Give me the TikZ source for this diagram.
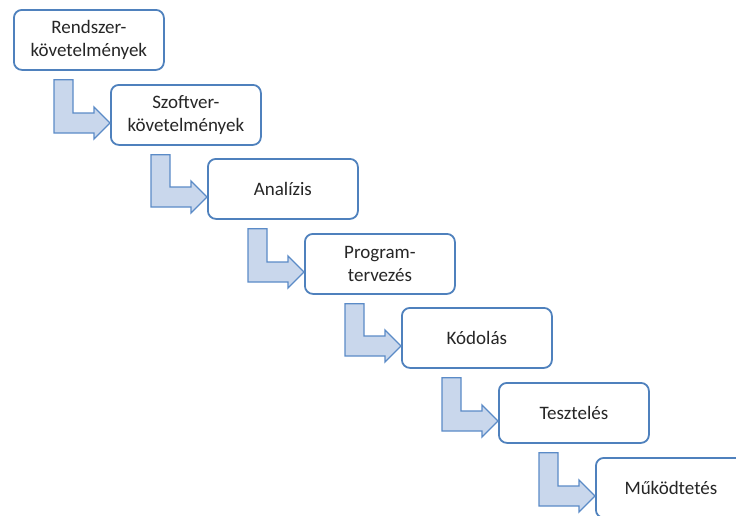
\documentclass[tikz,border=0pt]{standalone}
\usepackage{fontspec}
\setmainfont{Carlito}
\usetikzlibrary{calc}
\definecolor{boxblue}{RGB}{79,129,189}
\definecolor{arrfill}{RGB}{201,215,236}
\definecolor{arrline}{RGB}{91,139,199}
\tikzset{
  stagebox/.style={draw=boxblue, line width=1.8pt, rounded corners=8pt, fill=white,
    minimum width=150pt, minimum height=60pt, inner sep=2pt, align=center,
    font=\fontsize{19}{23}\selectfont, text=black!85, anchor=north west},
  bentarrow/.style={draw=arrline, line width=1.3pt, fill=arrfill, line join=miter}
}
\begin{document}
\begin{tikzpicture}[x=1pt,y=-1pt]
\useasboundingbox (0,0) rectangle (736,515);
\clip (0,0) rectangle (736,515);
\node[stagebox] (b1) at (13,9) {Rendszer-\\követelmények};
\node[stagebox] (b2) at (110,84) {Szoftver-\\követelmények};
\node[stagebox] (b3) at (207,158) {Analízis};
\node[stagebox] (b4) at (304,233) {Program-\\tervezés};
\node[stagebox] (b5) at (401,307) {Kódolás};
\node[stagebox] (b6) at (498,382) {Tesztelés};
\node[stagebox] (b7) at (595,457) {Működtetés};
\foreach \p/\n in {b1/b2,b2/b3,b3/b4,b4/b5,b5/b6,b6/b7}{
  \draw[bentarrow]
    ($(\p.south west)+(41,9)$) -- ($(\p.south west)+(60,9)$)
    |- ($(\n.north west)+(-16,29)$) -- ($(\n.north west)+(-16,23)$)
    -- ($(\n.north west)+(0,39)$) -- ($(\n.north west)+(-16,55)$)
    -- ($(\n.north west)+(-16,49)$) -| ($(\p.south west)+(41,9)$) -- cycle;
}
\end{tikzpicture}
\end{document}
